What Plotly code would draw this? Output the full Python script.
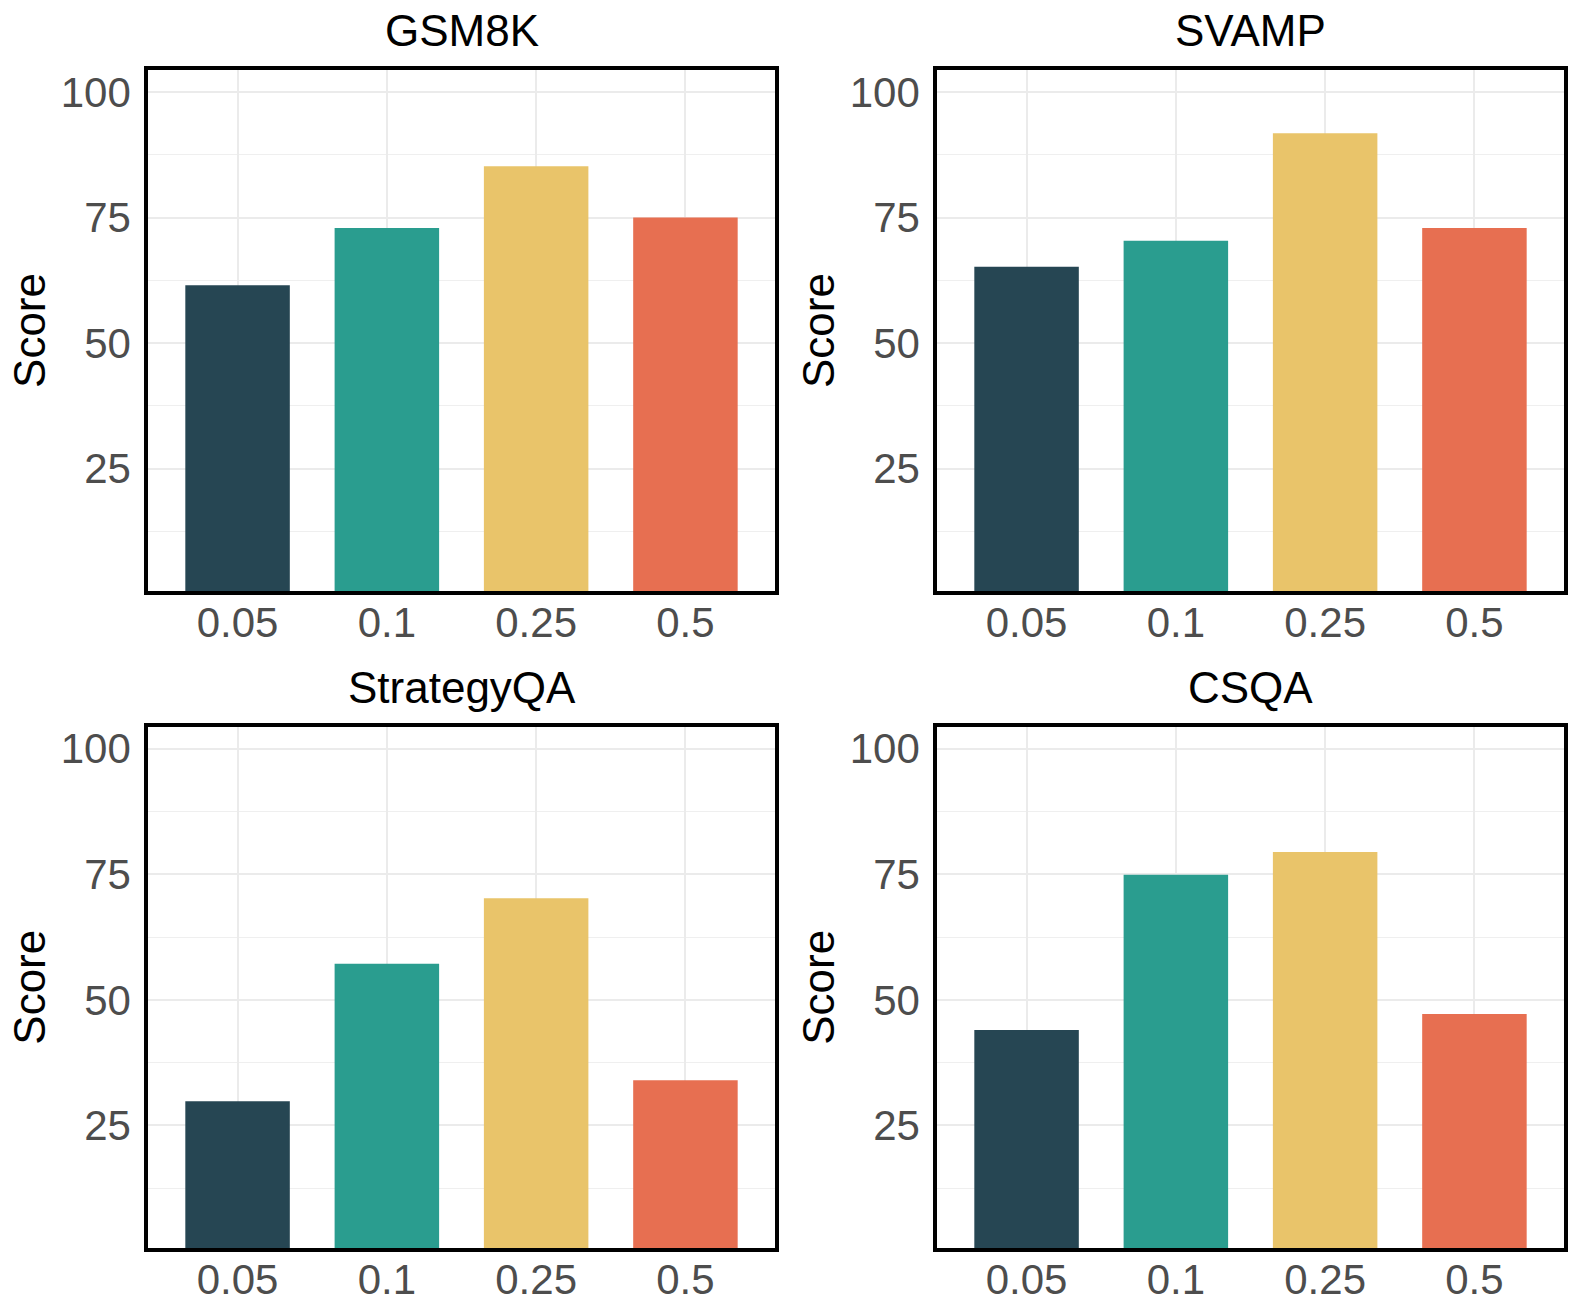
import plotly.graph_objects as go
from plotly.subplots import make_subplots

datasets = ["GSM8K", "SVAMP", "StrategyQA", "CSQA"]
ratios = ["0.05", "0.1", "0.25", "0.5"]
gsm8k = [61.5, 72.9, 85.2, 75.0]
svamp = [65.2, 70.4, 91.8, 72.9]
strategyqa = [29.8, 57.2, 70.2, 34.0]
csqa = [44.0, 74.9, 79.4, 47.2]
y_ticks = [25, 50, 75, 100]
colors = ["#264653", "#2A9D8F", "#E9C46A", "#E76F51"]

series = [gsm8k, svamp, strategyqa, csqa]

W, H = 1578, 1315
fig = make_subplots(rows=2, cols=2)

xdoms = [(148 / W, 775 / W), (937 / W, 1564 / W)]
ydoms = [(1 - 591 / H, 1 - 70 / H), (1 - 1248 / H, 1 - 726.5 / H)]

FONT = "Liberation Sans, Arial, Helvetica, sans-serif"

for i, (name, vals) in enumerate(zip(datasets, series)):
    r, c = i // 2 + 1, i % 2 + 1
    fig.add_trace(
        go.Bar(x=ratios, y=vals, marker=dict(color=colors, line=dict(width=0)),
               width=0.7, showlegend=False),
        row=r, col=c,
    )
    xd = xdoms[c - 1]
    yd = ydoms[r - 1]
    fig.update_xaxes(
        domain=list(xd), type="category", range=[-0.6, 3.6],
        showline=True, mirror=True, linecolor="black", linewidth=3.5,
        showgrid=True, gridcolor="#EBEBEB", gridwidth=2,
        ticks="", ticklabelstandoff=-8,
        tickfont=dict(family=FONT, size=42, color="#4D4D4D"),
        zeroline=False, row=r, col=c,
    )
    fig.update_yaxes(
        domain=list(yd), range=[0.6, 104.4],
        tickvals=y_ticks, ticktext=[str(v) for v in y_ticks],
        showline=True, mirror=True, linecolor="black", linewidth=3.5,
        showgrid=True, gridcolor="#EBEBEB", gridwidth=2,
        minor=dict(tickvals=[12.5, 37.5, 62.5, 87.5], showgrid=True,
                   gridcolor="#EFEFEF", gridwidth=1.3, ticks=""),
        ticks="", ticklabelstandoff=5,
        tickfont=dict(family=FONT, size=42, color="#4D4D4D"),
        title=dict(text="Score", font=dict(family=FONT, size=44, color="black"), standoff=2),
        zeroline=False, row=r, col=c,
    )
    fig.add_annotation(
        text=name, xref="paper", yref="paper",
        x=(xd[0] + xd[1]) / 2, y=yd[1] + 13 / H, xanchor="center", yanchor="bottom",
        showarrow=False, font=dict(family=FONT, size=44, color="black"),
    )

fig.update_layout(
    width=W, height=H, margin=dict(l=0, r=0, t=0, b=0),
    plot_bgcolor="white", paper_bgcolor="white", bargap=0.3,
)

fig.write_html(
    "out.html",
    config={"displayModeBar": False},
    post_script="document.body.style.margin='0';document.body.style.overflow='hidden';",
)
